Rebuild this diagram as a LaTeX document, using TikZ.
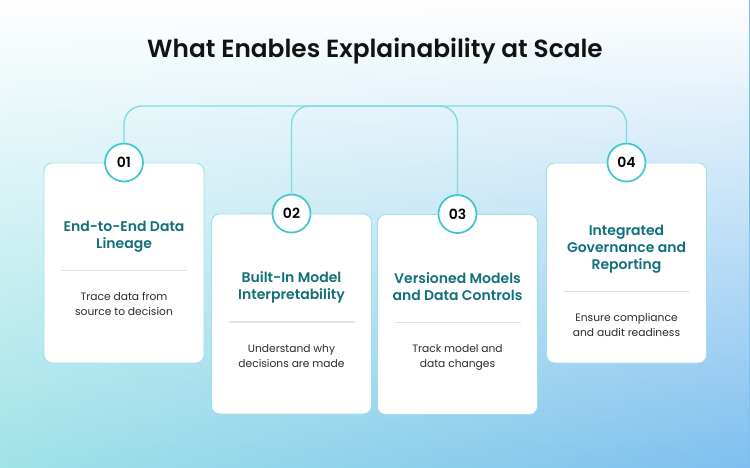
\documentclass[tikz,border=0pt]{standalone}
\usepackage{fontspec}
\setmainfont{Poppins}[BoldFont={Poppins SemiBold}]
\usetikzlibrary{positioning,fadings}
\definecolor{linkteal}{HTML}{7FDCE0}
\definecolor{ringteal}{HTML}{3CC7CC}
\definecolor{cardedge}{HTML}{9EE0E4}
\definecolor{headteal}{HTML}{13707A}
\definecolor{rulegray}{HTML}{E1E2E6}
\definecolor{textgray}{HTML}{2B2B2B}
\definecolor{bgcyan}{HTML}{A0E3E8}
\definecolor{bgmid}{HTML}{B0ECF5}
\definecolor{bgblue}{HTML}{7FBFEF}
\tikzfading[name=fadetop, top color=transparent!0, bottom color=transparent!100]
\begin{document}
\begin{tikzpicture}[x=1pt, y=-1pt,
    card/.style={draw=cardedge, line width=0.9pt, fill=white, rounded corners=8pt, minimum width=160pt, minimum height=200pt, inner sep=0pt},
    ring/.style={circle, draw=ringteal, line width=1.7pt, fill=white, minimum size=38pt, inner sep=0pt, text=black, font=\bfseries\fontsize{14}{14}\selectfont},
    link/.style={draw=linkteal, line width=1.4pt, rounded corners=18pt},
    cardhead/.style={align=center, text=headteal, text depth=0pt, inner sep=0pt, font=\bfseries\fontsize{14}{17}\selectfont},
    cardtext/.style={align=center, text=textgray, inner sep=0pt, font=\fontsize{10.7}{15}\selectfont},
    divider/.style={draw=rulegray, line width=1.3pt}]
    \useasboundingbox (0,0) rectangle (750,468);
    \fill[left color=bgcyan, middle color=bgmid, right color=bgblue] (0,0) rectangle (750,468);
    \fill[white, path fading=fadetop] (0,0) rectangle (750,468);
    \node[anchor=base, text=black!93, font=\bfseries\fontsize{24.8}{30}\selectfont] (title) at (375,58) {What Enables Explainability at Scale};
    \foreach \i/\cx/\cy/\dy/\head/\body in {
        1/124/263/58/{End-to-End Data\\Lineage}/{Trace data from\\source to decision},
        2/291.5/314/58/{Built-In Model\\Interpretability}/{Understand why\\decisions are made},
        3/457.5/314.5/58/{Versioned Models\\and Data Controls}/{Track model and\\data changes},
        4/626.5/263/62/{Integrated\\Governance and\\Reporting}/{Ensure compliance\\and audit readiness}}{
        \node[card] (card\i) at (\cx,\cy) {};
        \node[ring] (num\i) at (card\i.north) {0\i};
        \node[cardhead, below=\dy pt of card\i.north] (head\i) {\head};
        \coordinate[below=22pt of head\i.south] (rule\i);
        \draw[divider] ([xshift=-63pt]rule\i) -- ([xshift=63pt]rule\i);
        \node[cardtext, below=22pt of rule\i] (body\i) {\body};
    }
    \coordinate (bar) at (0,106);
    \draw[link] (num1.north) -- (num1.north |- bar) -- (num4.north |- bar) -- (num4.north);
    \draw[link] (num2.north) -- (num2.north |- bar) -- (num3.north |- bar) -- (num3.north);
\end{tikzpicture}
\end{document}
